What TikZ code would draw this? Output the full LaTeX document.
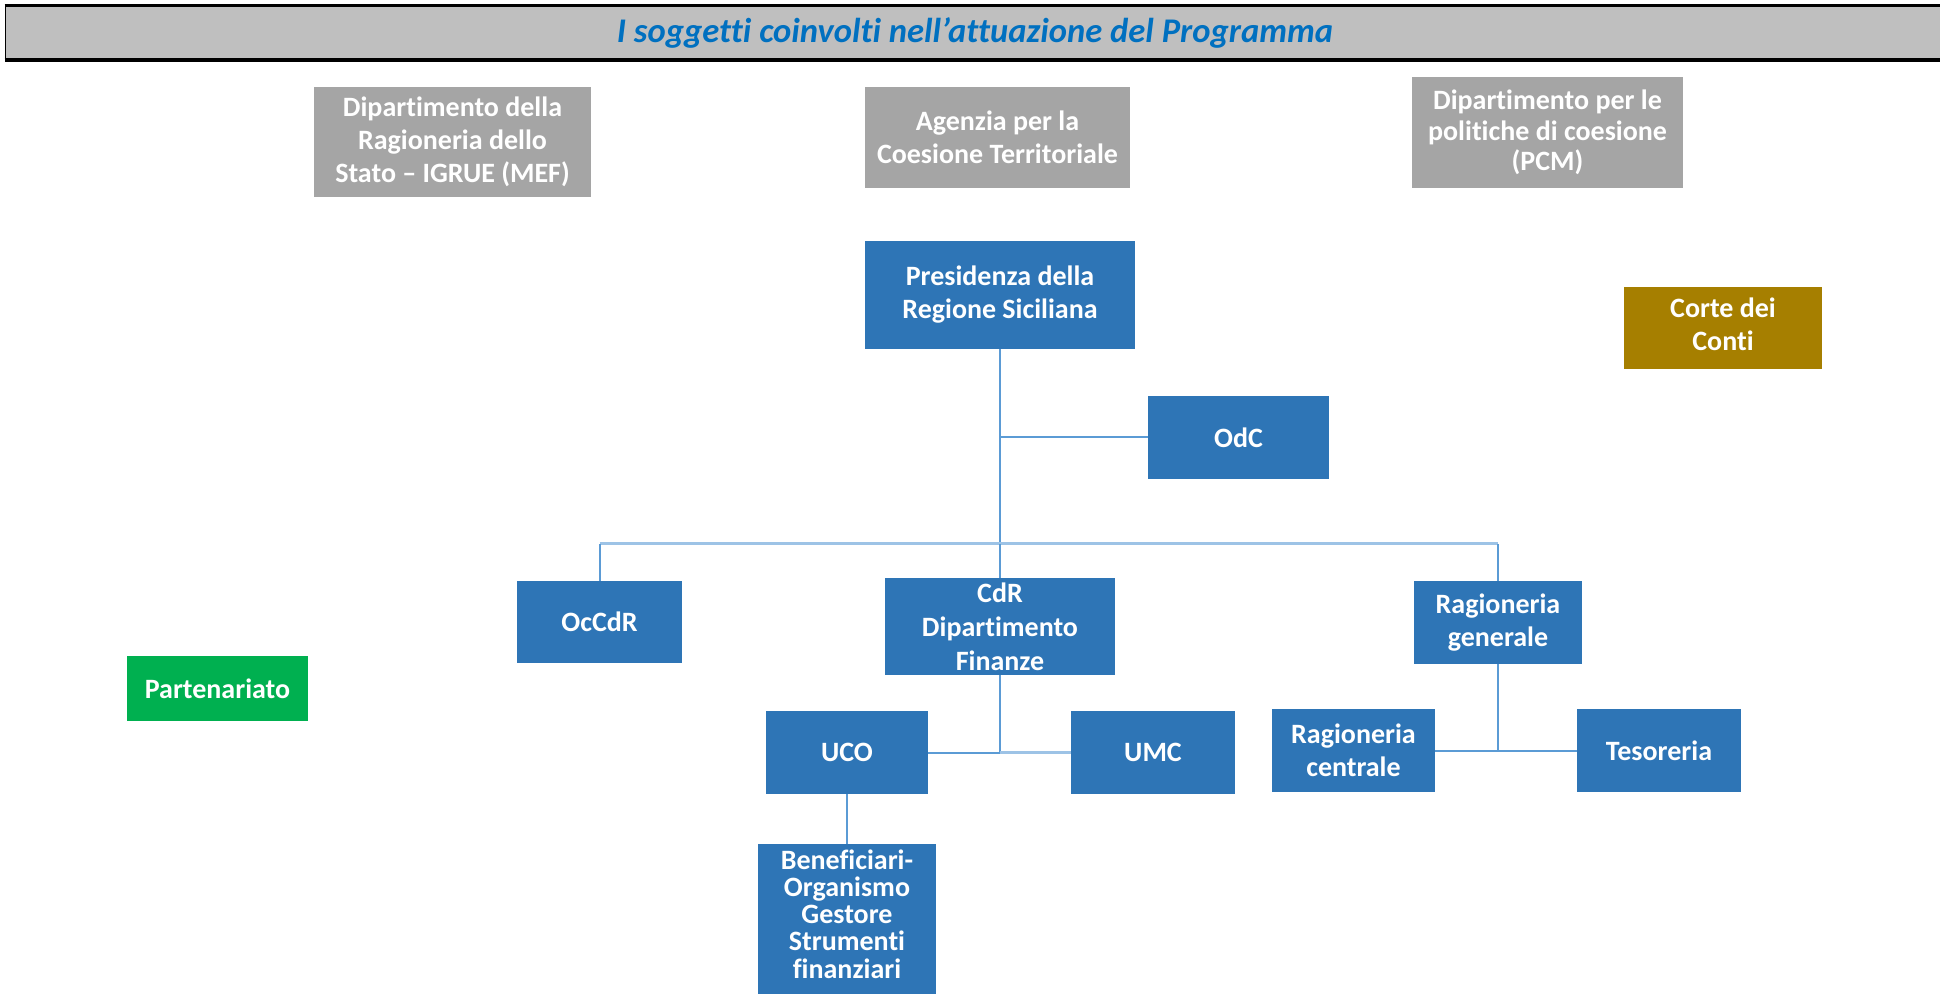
\documentclass[tikz,border=0pt]{standalone}
\usepackage{fontspec}
\setmainfont{Carlito}[Ligatures={NoCommon}]
\definecolor{boxblue}{HTML}{2E75B6}
\definecolor{boxgray}{HTML}{A5A5A5}
\definecolor{boxgold}{HTML}{A67F00}
\definecolor{boxgreen}{HTML}{00B050}
\definecolor{titlebg}{HTML}{BFBFBF}
\definecolor{titletext}{HTML}{0070C0}
\definecolor{linemid}{HTML}{5B9BD5}
\definecolor{linelight}{HTML}{9DC3E6}
\tikzset{
  base/.style={inner sep=0pt, outer sep=0pt, text=white, align=center, anchor=center, font=\fontsize{14}{16.5}\selectfont\bfseries},
  bluebox/.style={base, fill=boxblue},
  graybox/.style={base, fill=boxgray},
  goldbox/.style={base, fill=boxgold},
  greenbox/.style={base, fill=boxgreen},
  sz/.style 2 args={minimum width=#1pt, minimum height=#2pt},
  conn/.style={draw=linemid, line width=1pt},
  busline/.style={draw=linelight, line width=1.5pt},
}
\begin{document}
\begin{tikzpicture}[x=0.5pt,y=-0.5pt]
\useasboundingbox (0,0) rectangle (1940,994);
% title bar
\node[fill=titlebg, draw=black, line width=0.5pt, inner sep=0pt, anchor=center, sz={970}{27}] (title) at (975,33) {};
\node[text=titletext, font=\fontsize{17.3}{18}\selectfont\bfseries\itshape, anchor=center, inner sep=0pt] (ttext) at (975,33) {I soggetti coinvolti nell’attuazione del Programma};
\draw[black, line width=1.6pt] (title.north west) -- (title.north east);
\draw[black, line width=2pt] (title.south west) -- (title.south east);
% top gray boxes
\node[graybox, sz={138.5}{55}] (igrue) at (452.5,142) {Dipartimento della\\Ragioneria dello\\Stato – IGRUE (MEF)};
\node[graybox, sz={132.5}{50.5}] (act) at (997.5,137.5) {Agenzia per la\\Coesione Territoriale};
\node[graybox, sz={135.5}{55.5}, font=\fontsize{14}{15.2}\selectfont\bfseries] (dpc) at (1547.5,132.5) {Dipartimento per le\\politiche di coesione\\(PCM)};
\node[goldbox, sz={99}{41}] (corte) at (1723,328) {};
\node[base] (cortetext) at (1723,324) {Corte dei\\Conti};
% main chart
\node[bluebox, sz={135}{54}] (pres) at (1000,295) {Presidenza della\\Regione Siciliana};
\node[bluebox, sz={90.5}{41.5}] (odc) at (1238.5,437.5) {OdC};
\node[bluebox, sz={82.5}{41}] (occdr) at (599.5,622) {OcCdR};
\node[bluebox, sz={115}{48.5}, font=\fontsize{14}{17}\selectfont\bfseries] (cdr) at (1000,626.5) {CdR\\Dipartimento\\Finanze};
\node[bluebox, sz={84}{41.5}] (rg) at (1498,622.5) {Ragioneria\\generale};
\node[bluebox, sz={81}{41.5}] (uco) at (847,752.5) {UCO};
\node[bluebox, sz={82}{41.5}] (umc) at (1153,752.5) {UMC};
\node[bluebox, sz={81.5}{41.5}] (rc) at (1353.5,750.5) {Ragioneria\\centrale};
\node[bluebox, sz={82}{41.5}] (tes) at (1659,750.5) {Tesoreria};
\node[bluebox, sz={89}{75}] (ben) at (847,919) {};
\node[base, font=\fontsize{14}{13.6}\selectfont\bfseries] (bentext) at (847,914) {Beneficiari-\\Organismo\\Gestore\\Strumenti\\finanziari};
\node[greenbox, sz={90.5}{32.5}] (part) at (217.5,688.5) {Partenariato};
% connectors
\coordinate (bus) at (1000,544);
\draw[conn] (pres.south) -- (bus);
\draw[conn] (pres.south |- odc.west) -- (odc.west);
\draw[busline] (occdr.north |- bus) -- (rg.north |- bus);
\draw[conn] (occdr.north) -- (occdr.north |- bus);
\draw[conn] (rg.north) -- (rg.north |- bus);
\draw[conn] (bus) -- (cdr.north);
\draw[conn] (cdr.south) |- (uco.east);
\draw[busline] (cdr.south |- umc.west) -- (umc.west);
\draw[conn] (rg.south) |- (rc.east);
\draw[conn] (rg.south) |- (tes.west);
\draw[conn] (uco.south) -- (ben.north);
\end{tikzpicture}
\end{document}
